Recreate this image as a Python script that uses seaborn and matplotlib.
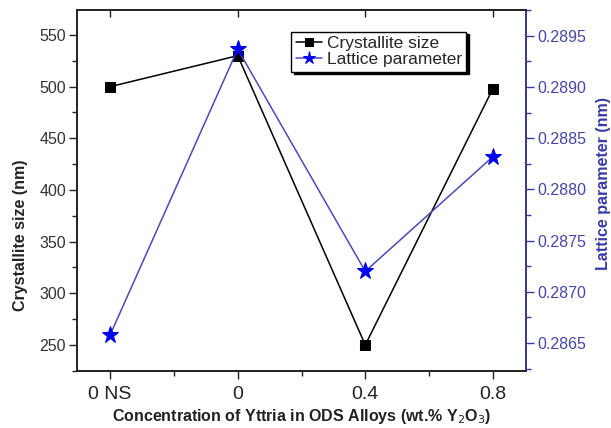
import matplotlib
matplotlib.use("Agg")
import matplotlib.pyplot as plt
import seaborn as sns
import pandas as pd
from matplotlib.ticker import MultipleLocator

categories = ["0 NS", "0", "0.4", "0.8"]
crystallite_size = [500, 530, 250, 498]
lattice_parameter = [0.28658, 0.28937, 0.28720, 0.28832]
left_ticks = [250, 300, 350, 400, 450, 500, 550]
right_ticks = [0.2865, 0.2870, 0.2875, 0.2880, 0.2885, 0.2890, 0.2895]

sns.set_style("ticks")
plt.rcParams["font.family"] = ["Liberation Sans", "DejaVu Sans"]

df = pd.DataFrame({"pos": range(len(categories)),
                   "cs": crystallite_size,
                   "lp": lattice_parameter})

fig = plt.figure(figsize=(6.11, 4.28), dpi=100)
ax = fig.add_axes([77/611, 1-371/428, (526-77)/611, (371-10)/428])
ax2 = ax.twinx()

blue_line = "#4a4ab8"
blue_axis = "#3a3a9c"

sns.lineplot(data=df, x="pos", y="cs", ax=ax, color="black", lw=1.1,
             marker="s", markersize=7.5, markeredgecolor="black",
             markerfacecolor="black", label="Crystallite size", legend=False)
sns.lineplot(data=df, x="pos", y="lp", ax=ax2, color=blue_line, lw=1.1,
             marker="*", markersize=12.5, markeredgecolor="#0000ee",
             markerfacecolor="#0000ee", label="Lattice parameter", legend=False)

ax.set_xlim(-0.26, 3.26)
ax.set_ylim(224.8, 574.2)
ax2.set_ylim(0.286227, 0.289752)

ax.set_xticks(range(len(categories)))
ax.set_xticklabels(categories, fontsize=14, color="#222222")
ax.xaxis.set_minor_locator(MultipleLocator(0.5))
ax.set_yticks(left_ticks)
ax.set_yticklabels([str(v) for v in left_ticks], fontsize=11.5, color="#333333")
ax.yaxis.set_minor_locator(MultipleLocator(25))
ax2.set_yticks(right_ticks)
ax2.set_yticklabels([f"{v:.4f}" for v in right_ticks], fontsize=11.5, color="#4646a6")
ax2.yaxis.set_minor_locator(MultipleLocator(0.00025))

ax.tick_params(axis="both", which="major", direction="out", length=6, width=1, colors="#222222")
ax.tick_params(axis="both", which="minor", direction="out", length=3.5, width=1, colors="#222222")
ax.tick_params(axis="x", labelcolor="#222222", pad=5)
ax.tick_params(axis="y", labelcolor="#333333", pad=2)
ax2.tick_params(axis="y", which="major", direction="out", length=6, width=1,
                colors=blue_axis, labelcolor="#4646a6", pad=2)
ax2.tick_params(axis="y", which="minor", direction="out", length=3.5, width=1, colors=blue_axis)

top = ax.secondary_xaxis("top")
top.set_xticks(range(len(categories)))
top.tick_params(direction="in", length=5, width=1, labeltop=False, colors="#222222")
top.spines["top"].set_visible(False)

for a in (ax, ax2):
    for s in a.spines.values():
        s.set_linewidth(1.2)
        s.set_color("#222222")
ax2.spines["right"].set_color(blue_axis)

ax.set_xlabel("Concentration of Yttria in ODS Alloys (wt.% Y$_2$O$_3$)",
              fontsize=11.5, fontweight="bold", color="#222222", labelpad=3)
ax.set_ylabel("Crystallite size (nm)", fontsize=11.5, fontweight="bold", color="#222222")
ax.yaxis.set_label_coords(-0.11, 0.375)
ax2.set_ylabel("Lattice parameter (nm)", fontsize=11.5, fontweight="bold", color="#3a3aa8")
ax2.yaxis.set_label_coords(1.155, 0.52)

h1, l1 = ax.get_legend_handles_labels()
h2, l2 = ax2.get_legend_handles_labels()
leg = ax2.legend(h1 + h2, l1 + l2, loc="upper left", bbox_to_anchor=(0.477, 0.94),
                 fontsize=12.5, frameon=True, fancybox=False, shadow={"color": "black", "alpha": 1},
                 handlelength=1.5, handletextpad=0.3, borderpad=0.25, labelspacing=0.05,
                 borderaxespad=0, markerscale=0.75)
leg.get_frame().set_edgecolor("black")
leg.get_frame().set_linewidth(1.0)

fig.savefig("out.png", dpi=100)
